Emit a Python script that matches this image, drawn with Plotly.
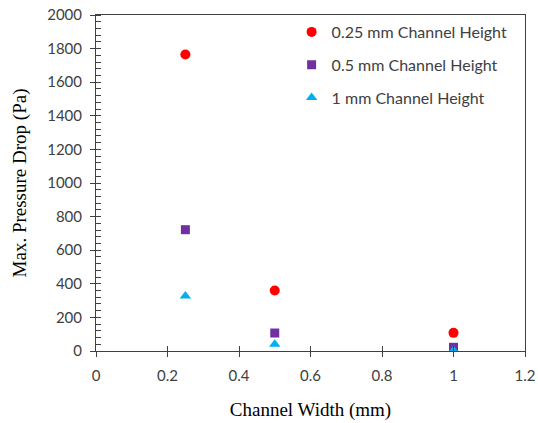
import plotly.graph_objects as go

widths = [0.25, 0.5, 1.0]
dp_025 = [1765, 360, 108]
dp_05 = [722, 107, 22]
dp_1 = [328, 40, 3]

series = [
    ("0.25 mm Channel Height", dp_025, "circle", "#FF0000", 10),
    ("0.5 mm Channel Height", dp_05, "square", "#7030A0", 9),
    ("1 mm Channel Height", dp_1, "triangle-up", "#00B0F0", 10),
]

fig = go.Figure()
for i, (name, vals, sym, col, sz) in enumerate(series):
    fig.add_trace(go.Scatter(
        x=widths, y=vals, mode="markers", name=name,
        legendgroup=f"g{i}",
        marker=dict(symbol=sym, color=col, size=sz, line=dict(width=0)),
    ))

# invisible trace to draw the crossing half of major ticks
fig.add_trace(go.Scatter(x=[None], y=[None], xaxis="x2", yaxis="y2",
                         showlegend=False, hoverinfo="skip"))

axcol = "#404040"
tickfont = dict(family="Lato, Noto Sans, sans-serif", size=15, color="#404040")
titlefont = dict(family="Liberation Serif, Times New Roman, serif", size=19, color="#000000")

fig.update_layout(
    width=538, height=423,
    margin=dict(l=96, r=13, t=15, b=72, autoexpand=False),
    paper_bgcolor="white", plot_bgcolor="white",
    showlegend=True,
    legend=dict(x=0.456, y=1.0, xanchor="left", yanchor="top",
                font=dict(family="Lato, Noto Sans, sans-serif", size=16, color="#404040"),
                tracegroupgap=9, bgcolor="rgba(0,0,0,0)", itemwidth=30),
    xaxis=dict(range=[0, 1.2], dtick=0.2, tick0=0, showgrid=False, zeroline=False,
               showline=True, linecolor=axcol, linewidth=1, mirror=True, automargin=False,
               ticks="outside", ticklen=5, tickcolor=axcol, tickwidth=1,
               tickfont=tickfont, ticklabelstandoff=6,
               title=dict(text="Channel Width (mm)", font=titlefont, standoff=19)),
    yaxis=dict(range=[0, 2000], dtick=200, tick0=0, showgrid=False, zeroline=False,
               showline=True, linecolor=axcol, linewidth=1, mirror=True, automargin=False,
               ticks="outside", ticklen=5, tickcolor=axcol, tickwidth=1,
               tickfont=tickfont, ticklabelstandoff=5,
               minor=dict(dtick=40, ticks="inside", ticklen=5, tickcolor=axcol, tickwidth=1, showgrid=False),
               title=dict(text="Max. Pressure Drop (Pa)", font=titlefont, standoff=15)),
    xaxis2=dict(range=[0, 1.2], dtick=0.2, tick0=0, overlaying="x", anchor="y2",
                showgrid=False, zeroline=False, showline=False, showticklabels=False,
                ticks="inside", ticklen=5, tickcolor=axcol, tickwidth=1),
    yaxis2=dict(range=[0, 2000], dtick=200, tick0=0, overlaying="y", anchor="x2",
                showgrid=False, zeroline=False, showline=False, showticklabels=False,
                ticks="inside", ticklen=5, tickcolor=axcol, tickwidth=1),
)

fig.write_html("out.html")
